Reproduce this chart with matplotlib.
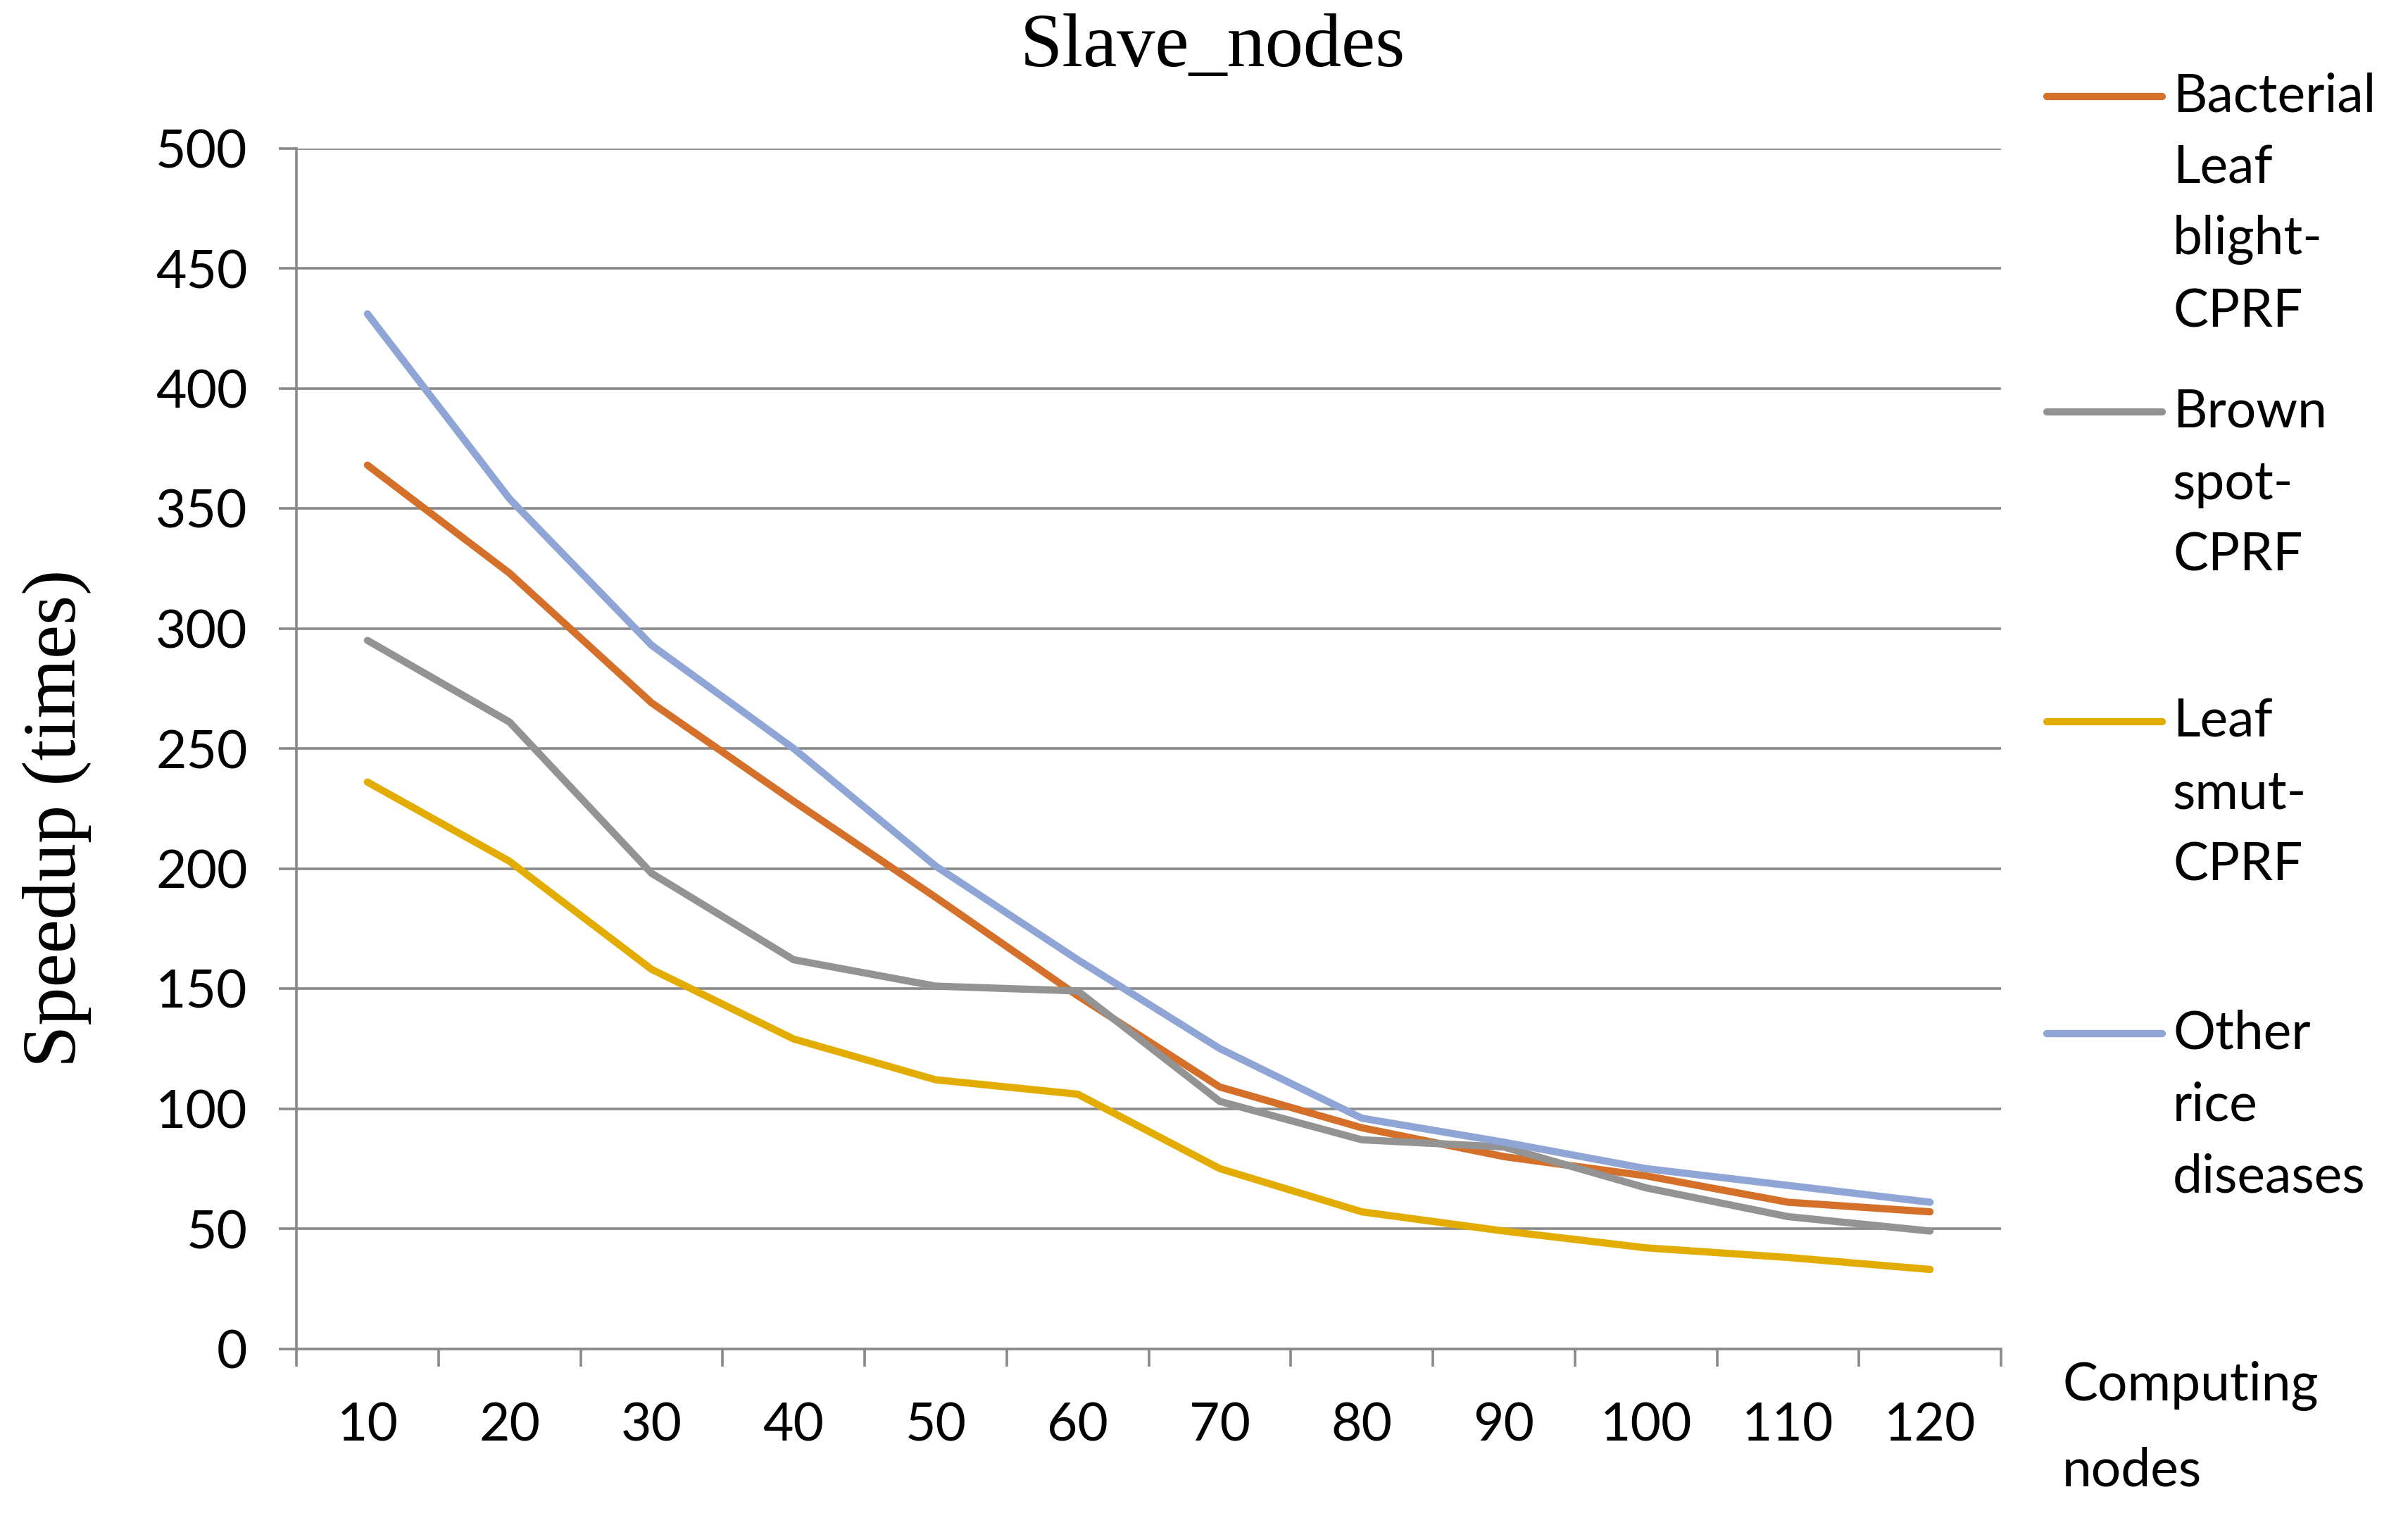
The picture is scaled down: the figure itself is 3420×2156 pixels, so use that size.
import numpy as np
import matplotlib
matplotlib.use("Agg")
import matplotlib.pyplot as plt
from matplotlib.lines import Line2D

# values
nodes = ["10", "20", "30", "40", "50", "60", "70", "80", "90", "100", "110", "120"]
bacterial = [368, 323, 269, 228, 188, 147, 109, 92, 80, 72, 61, 57]
brown_spot = [295, 261, 198, 162, 151, 149, 103, 87, 84, 67, 55, 49]
leaf_smut = [236, 203, 158, 129, 112, 106, 75, 57, 49, 42, 38, 33]
other = [431, 354, 293, 250, 201, 162, 125, 96, 86, 75, 68, 61]

series_names = ["Bacterial\nLeaf\nblight-\nCPRF", "Brown\nspot-\nCPRF",
                "Leaf\nsmut-\nCPRF", "Other\nrice\ndiseases"]
series_vals = [bacterial, brown_spot, leaf_smut, other]
colors = ["#D4702A", "#939393", "#E2AC00", "#8FA5D5"]

W, H = 3420, 2156
DPI = 200
grid_col = "#898989"
sans = "Lato"
serif = "Liberation Serif"
lw_series = 3.7

fig = plt.figure(figsize=(W / DPI, H / DPI), dpi=DPI)
ax = fig.add_axes([421 / W, 1 - 1915.5 / H, (2842 - 421) / W, (1915.5 - 210.5) / H])

x = np.arange(len(nodes)) + 0.5
for vals, col, name in zip(series_vals, colors, series_names):
    ax.plot(x, vals, color=col, lw=lw_series, solid_capstyle="round",
            solid_joinstyle="round", label=name)

ax.set_xlim(0, len(nodes))
ax.set_ylim(0, 500)
ax.set_yticks(np.arange(0, 501, 50))
ax.yaxis.grid(True, color=grid_col, lw=1.3)
ax.set_axisbelow(True)

# category axis: ticks on boundaries, labels centered
ax.set_xticks(np.arange(0, len(nodes) + 1))
ax.set_xticklabels([])
ax.set_xticks(x, minor=True)
ax.set_xticklabels(nodes, minor=True, fontsize=27, fontfamily=sans)
ax.tick_params(axis="x", which="major", length=9, width=1.3, color=grid_col)
ax.tick_params(axis="x", which="minor", length=0, pad=27)
ax.tick_params(axis="y", length=9, width=1.3, color=grid_col, pad=16, labelsize=27)
for lab in ax.get_yticklabels():
    lab.set_fontfamily(sans)

for s in ["top", "right"]:
    ax.spines[s].set_visible(False)
for s in ["left", "bottom"]:
    ax.spines[s].set_color(grid_col)
    ax.spines[s].set_linewidth(1.3)

fig.text(1722 / W, 1 - 68 / H, "Slave_nodes", ha="center", va="center",
         fontsize=39, fontfamily=serif)
fig.text(81 / W, 1 - 1162 / H, "Speedup (times)", ha="center", va="center",
         rotation=90, fontsize=39, fontfamily=serif)

for i, line in enumerate(["Computing", "nodes"]):
    fig.text(2929 / W, 1 - (1969 + i * 120) / H, line, ha="left", va="center",
             fontsize=27, fontfamily=sans)

# legend laid out like the Excel one: handle next to first text line
leg_y = [137, 585, 1025, 1468]
for name, col, yy in zip(series_names, colors, leg_y):
    fig.add_artist(Line2D([2907 / W, 3071 / W], [1 - yy / H, 1 - yy / H],
                          color=col, lw=lw_series, solid_capstyle="round"))
    for j, part in enumerate(name.split("\n")):
        fig.text(3086 / W, 1 - (yy + j * 102) / H, part, ha="left", va="center",
                 fontsize=27, fontfamily=sans)

fig.savefig("out.png", dpi=DPI)
